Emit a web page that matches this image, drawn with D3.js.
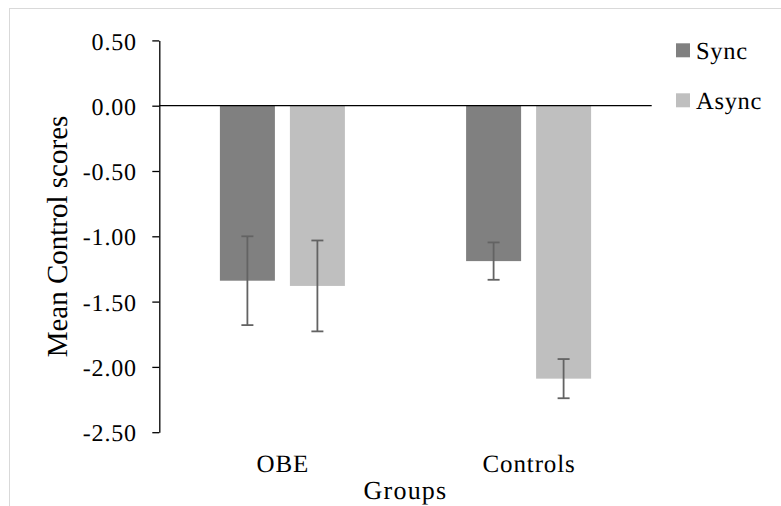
<!DOCTYPE html>
<html>
<head>
<meta charset="utf-8">
<script src="https://cdn.jsdelivr.net/npm/d3@7"></script>
<style>
  html, body { margin: 0; padding: 0; background: #fff; }
  svg { display: block; }
  svg text { text-rendering: geometricPrecision; }
</style>
</head>
<body>
<svg id="chart" width="781" height="506"></svg>
<script>
// ---- data ----
const groups = ["OBE", "Controls"];
const seriesNames = ["Sync", "Async"];
const syncValues = [-1.34, -1.19];
const asyncValues = [-1.38, -2.09];
const syncErrors = [0.34, 0.143];
const asyncErrors = [0.348, 0.15];
const yTicks = [0.5, 0.0, -0.5, -1.0, -1.5, -2.0, -2.5];
const seriesColors = ["#808080", "#bfbfbf"];
const yTitle = "Mean Control scores";
const xTitle = "Groups";

const FONT = '"Liberation Serif", "Times New Roman", serif';
const svg = d3.select("#chart");

// chart border (top and left visible, cropped at right/bottom)
svg.append("rect")
  .attr("x", 9.5).attr("y", 8.5)
  .attr("width", 800).attr("height", 600)
  .attr("fill", "#fff").attr("stroke", "#d9d9d9").attr("stroke-width", 1);

const plotLeft = 159.3, plotRight = 651.7;
const y = d3.scaleLinear().domain([-2.5, 0.5]).range([432.2, 40.4]);
const x0 = d3.scaleBand().domain(groups).range([plotLeft, plotRight]).padding(0);
const clusterW = 125;
const x1 = d3.scaleBand().domain(seriesNames).range([0, clusterW]).paddingInner(15 / 70).paddingOuter(0);

const rows = groups.map((g, i) => ({
  group: g,
  items: [
    { s: "Sync", v: syncValues[i], e: syncErrors[i] },
    { s: "Async", v: asyncValues[i], e: asyncErrors[i] }
  ]
}));

const color = d3.scaleOrdinal().domain(seriesNames).range(seriesColors);

// bars
const gGroups = svg.append("g").selectAll("g").data(rows).join("g")
  .attr("transform", d => `translate(${x0(d.group) + (x0.bandwidth() - clusterW) / 2},0)`);

gGroups.selectAll("rect").data(d => d.items).join("rect")
  .attr("x", d => x1(d.s))
  .attr("width", x1.bandwidth())
  .attr("y", d => y(Math.max(0, d.v)))
  .attr("height", d => Math.abs(y(d.v) - y(0)))
  .attr("fill", d => color(d.s));

// error bars
const capW = 12;
const eb = gGroups.selectAll("g.eb").data(d => d.items).join("g").attr("class", "eb");
const cx = d => x1(d.s) + x1.bandwidth() / 2;
eb.append("line")
  .attr("x1", cx).attr("x2", cx)
  .attr("y1", d => y(d.v + d.e)).attr("y2", d => y(d.v - d.e))
  .attr("stroke", "#636363").attr("stroke-width", 1.8);
[1, -1].forEach(sgn => {
  eb.append("line")
    .attr("x1", d => cx(d) - capW / 2)
    .attr("x2", d => cx(d) + capW / 2)
    .attr("y1", d => y(d.v + sgn * d.e)).attr("y2", d => y(d.v + sgn * d.e))
    .attr("stroke", "#636363").attr("stroke-width", 1.8);
});

// zero line
svg.append("line")
  .attr("x1", plotLeft).attr("x2", plotRight)
  .attr("y1", y(0)).attr("y2", y(0))
  .attr("stroke", "#000").attr("stroke-width", 1.3);

// y axis
const yAxis = d3.axisLeft(y).tickValues(yTicks).tickSize(7).tickSizeOuter(0)
  .tickFormat(d => d3.format(".2f")(d).replace("\u2212", "-"));
const gy = svg.append("g").attr("transform", `translate(${plotLeft},0)`).call(yAxis);
gy.attr("font-family", FONT).attr("font-size", 24);
gy.select(".domain").attr("stroke", "#000").attr("stroke-width", 1.3);
gy.selectAll(".tick line").attr("stroke", "#000").attr("stroke-width", 1.3);
gy.selectAll(".tick text")
  .attr("x", -22.5).attr("dy", null).attr("y", 8.6)
  .attr("fill", "#000")
  .attr("letter-spacing", 0.8)
  .attr("text-anchor", "end");

function label(txt, x, yy, size, ls, anchor) {
  return svg.append("text")
    .attr("x", x).attr("y", yy)
    .attr("font-family", FONT)
    .attr("font-size", size)
    .attr("letter-spacing", ls)
    .attr("text-anchor", anchor)
    .attr("fill", "#000")
    .text(txt);
}

// category labels
groups.forEach(g => {
  label(g, x0(g) + x0.bandwidth() / 2 + 0.5, 472.3, 25, 0.9, "middle");
});

// x title
label(xTitle, 405.5, 499.3, 26, 1.2, "middle");

// y title
svg.append("text")
  .attr("transform", "translate(66.7,236.5) rotate(-90)")
  .attr("font-family", FONT)
  .attr("font-size", 29)
  .attr("text-anchor", "middle")
  .attr("fill", "#000")
  .text(yTitle);

// legend
const legendY = [43.3, 93.3];
seriesNames.forEach((s, i) => {
  svg.append("rect")
    .attr("x", 676).attr("y", legendY[i])
    .attr("width", 14).attr("height", 14)
    .attr("fill", color(s));
  label(s, 696, legendY[i] + 16, 24.5, 0.7, "start");
});
</script>
</body>
</html>
